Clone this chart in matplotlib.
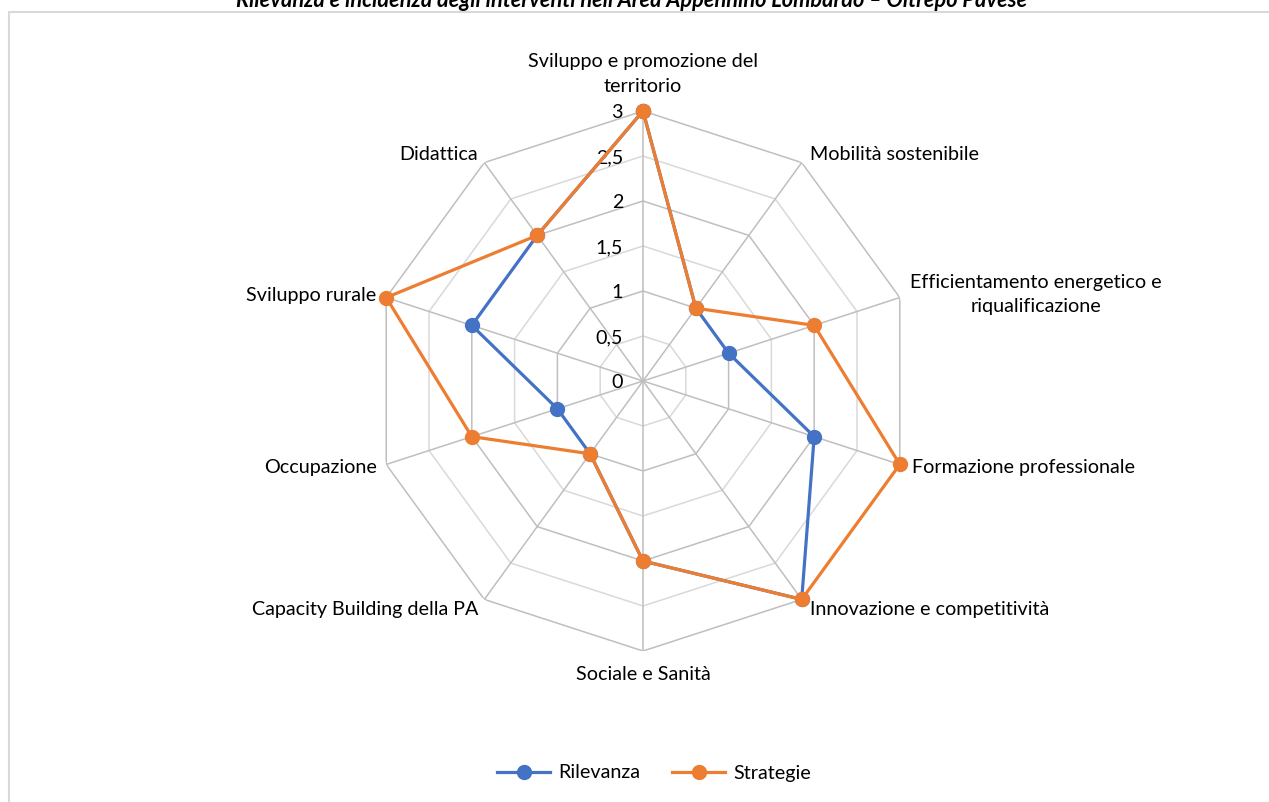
import numpy as np
import matplotlib
matplotlib.use("Agg")
import matplotlib.pyplot as plt
from matplotlib.patches import Rectangle

plt.rcParams['font.family'] = ['Lato', 'DejaVu Sans']

title = "Rilevanza e incidenza degli interventi nell'Area Appennino Lombardo – Oltrepò Pavese"
categories = [
    "Sviluppo e promozione del\nterritorio",
    "Mobilità sostenibile",
    "Efficientamento energetico e\nriqualificazione",
    "Formazione professionale",
    "Innovazione e competitività",
    "Sociale e Sanità",
    "Capacity Building della PA",
    "Occupazione",
    "Sviluppo rurale",
    "Didattica",
]
rilevanza = [3, 1, 1, 2, 3, 2, 1, 1, 2, 2]
strategie = [3, 1, 2, 3, 3, 2, 1, 2, 3, 2]
r_ticks = [0, 0.5, 1, 1.5, 2, 2.5, 3]
r_tick_labels = ["0", "0,5", "1", "1,5", "2", "2,5", "3"]

BLUE = "#4472C4"
ORANGE = "#ED7D31"
TEXT = "#000000"
FS = 14.2

W, H = 1269, 802
fig = plt.figure(figsize=(W / 100, H / 100), dpi=100)
fig.patch.set_facecolor("white")

# chart frame
fig.add_artist(Rectangle((9 / W, -0.05), 1.1, 1 - 12 / H + 0.05, transform=fig.transFigure,
                         fill=False, edgecolor="#d9d9d9", linewidth=1.5))
fig.text(0.5 * (237 + 1027) / W, 1 - 7 / H, title, ha="center", va="baseline",
         fontsize=15.7, fontweight="bold", fontstyle="italic", color=TEXT)

cx, cy, R = 643, 381, 270
ax = fig.add_axes([(cx - R) / W, (H - cy - R) / H, 2 * R / W, 2 * R / H], projection="polar")
ax.set_theta_zero_location("N")
ax.set_theta_direction(-1)
ax.set_ylim(0, 3)
ax.grid(False)
ax.set_xticks([])
ax.set_yticks([])
ax.spines["polar"].set_visible(False)
ax.patch.set_alpha(0)

n = len(categories)
angles = np.linspace(0, 2 * np.pi, n, endpoint=False)
closed = np.append(angles, angles[0])

# polygonal grid
for r in r_ticks[1:]:
    col = "#bfbfbf" if float(r).is_integer() else "#d9d9d9"
    ax.plot(closed, [r] * (n + 1), color=col, linewidth=1.1, zorder=1)
for a in angles:
    ax.plot([a, a], [0, 3], color="#bfbfbf", linewidth=1.1, zorder=1)

# radial tick labels
for r, lab in zip(r_ticks, r_tick_labels):
    ax.annotate(lab, xy=(0, r), xytext=(-20, -2), textcoords="offset pixels",
                ha="right", va="center", fontsize=FS, color=TEXT, zorder=2)

# series
for vals, col, name in [(rilevanza, BLUE, "Rilevanza"), (strategie, ORANGE, "Strategie")]:
    ax.plot(closed, vals + vals[:1], color=col, linewidth=2.3, marker="o",
            markersize=10, label=name, zorder=3, clip_on=False)

# category labels
label_style = [
    dict(off=(0, 37), ha="center"),
    dict(off=(8, 8), ha="left"),
    dict(off=(136, 3), ha="center"),
    dict(off=(12, -3), ha="left"),
    dict(off=(8, -10), ha="left"),
    dict(off=(0, -24), ha="center"),
    dict(off=(-6, -10), ha="right"),
    dict(off=(-9, -3), ha="right"),
    dict(off=(-10, 2), ha="right"),
    dict(off=(-6, 8), ha="right"),
]
for a, lab, st in zip(angles, categories, label_style):
    ax.annotate(lab, xy=(a, 3), xytext=st["off"], textcoords="offset pixels",
                ha=st["ha"], va="center", multialignment="center", linespacing=1.5,
                fontsize=FS, color=TEXT, annotation_clip=False)

leg = fig.legend(loc="center", bbox_to_anchor=((cx + 11) / W, (H - 773) / H), ncol=2,
                 frameon=False, fontsize=FS, handlelength=2.7, columnspacing=1.6,
                 handletextpad=0.4)

fig.savefig("out.png", dpi=100, facecolor="white")
